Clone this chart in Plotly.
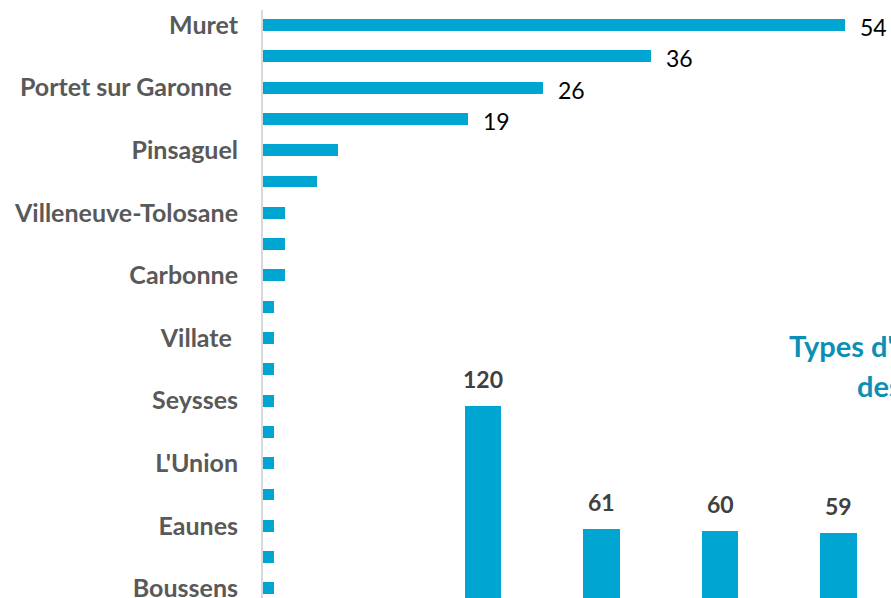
import plotly.graph_objects as go

# ---- data ----
communes = ["Muret", "", "Portet sur Garonne\u00a0", "", "Pinsaguel", "",
            "Villeneuve-Tolosane", "", "Carbonne", "", "Villate\u00a0", "",
            "Seysses", "", "L'Union", "", "Eaunes", "", "Boussens"]
commune_values = [54, 36, 26, 19, 7, 5, 2, 2, 2, 1, 1, 1, 1, 1, 1, 1, 1, 1, 1]
commune_labels = ["54", "36", "26", "19"] + [""] * 15

types_values = [120, 61, 60, 59]
types_labels = ["120", "61", "60", "59"]

title_line1 = "Types d'"
title_line2 = "des"

BAR = "#00A6D1"
LABEL_GREY = "#595959"
DARK = "#404040"
TEAL = "#0C8FB5"
FONT = "Lato"

rows = list(range(len(communes)))
cols = list(range(len(types_values)))

fig = go.Figure()

fig.add_trace(go.Bar(
    x=commune_values, y=rows, orientation="h",
    marker=dict(color=BAR, line=dict(width=0)),
    width=0.38, xaxis="x", yaxis="y", showlegend=False, hoverinfo="skip",
))

fig.add_trace(go.Bar(
    x=cols, y=types_values,
    marker=dict(color=BAR, line=dict(width=0)),
    width=0.312, xaxis="x2", yaxis="y2", showlegend=False, hoverinfo="skip",
))

annotations = []
for r, v, t in zip(rows, commune_values, commune_labels):
    if t:
        annotations.append(dict(x=v, y=r, xref="x", yref="y", text=t,
                                showarrow=False, xanchor="left", yanchor="middle",
                                xshift=13, yshift=-2,
                                font=dict(family=FONT, size=23, color="#000000")))
for c, v, t in zip(cols, types_values, types_labels):
    annotations.append(dict(x=c, y=v, xref="x2", yref="y2", text="<b>%s</b>" % t,
                            showarrow=False, xanchor="center", yanchor="bottom",
                            yshift=11,
                            font=dict(family=FONT, size=23, color=DARK)))
annotations.append(dict(x=787 / 891, y=1 - 346 / 598, xref="paper", yref="paper",
                        text="<b>%s</b>" % title_line1, showarrow=False,
                        xanchor="left", yanchor="middle",
                        font=dict(family=FONT, size=29, color=TEAL)))
annotations.append(dict(x=855 / 891, y=1 - 385 / 598, xref="paper", yref="paper",
                        text="<b>%s</b>" % title_line2, showarrow=False,
                        xanchor="left", yanchor="middle",
                        font=dict(family=FONT, size=29, color=TEAL)))

fig.update_layout(
    width=891, height=598,
    margin=dict(l=0, r=0, t=0, b=0),
    paper_bgcolor="white", plot_bgcolor="rgba(0,0,0,0)",
    bargap=0,
    xaxis=dict(domain=[263 / 891, 1], range=[0, (891 - 263) / 10.78],
               showgrid=False, zeroline=False, showticklabels=False,
               showline=False, anchor="y", fixedrange=True),
    yaxis=dict(domain=[0, 1 - 10 / 598], range=[(598 - 25) / 31.3, (10 - 25) / 31.3],
               tickmode="array", tickvals=rows,
               ticktext=["<b>%s</b>" % c if c else "" for c in communes],
               tickfont=dict(family=FONT, size=25, color=LABEL_GREY),
               ticks="", ticklabelstandoff=18, ticklabeloverflow="allow",
               showgrid=False, zeroline=False,
               showline=True, linecolor="#D9D9D9", linewidth=2,
               anchor="x", automargin=False, fixedrange=True),
    xaxis2=dict(domain=[0, 1], range=[-483 / 118.5, (891 - 483) / 118.5],
                showgrid=False, zeroline=False, showticklabels=False, showline=False,
                anchor="y2", fixedrange=True),
    yaxis2=dict(domain=[0, 1], range=[(656 - 598) / 2.085, 656 / 2.085],
                showgrid=False, zeroline=False, showticklabels=False, showline=False,
                anchor="x2", fixedrange=True),
    annotations=annotations,
)

fig.write_html("out.html", config={"displayModeBar": False})

# remove the browser's default page margin so the figure sits at the top-left corner
with open("out.html", encoding="utf-8") as f:
    html = f.read()
html = html.replace("<body>", '<body style="margin:0;overflow:hidden;">', 1)
with open("out.html", "w", encoding="utf-8") as f:
    f.write(html)
